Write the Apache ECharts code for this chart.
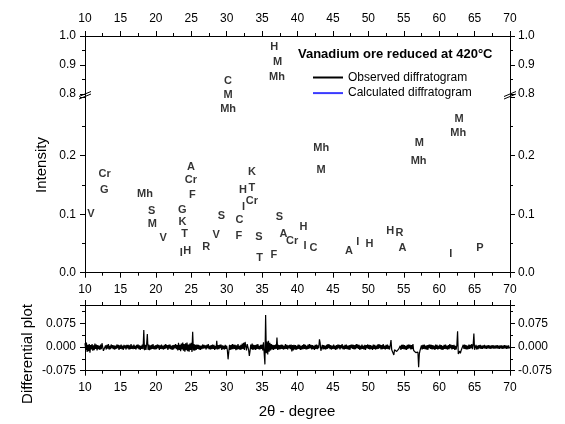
<!DOCTYPE html>
<html>
<head>
<meta charset="utf-8">
<script src="https://cdn.jsdelivr.net/npm/echarts@6/dist/echarts.min.js"></script>
<style>
  html, body { margin: 0; padding: 0; background: #fff; }
  #chart { width: 565px; height: 424px; }
</style>
</head>
<body>
<div id="chart"></div>
<script>
// phase identification marks (2theta, intensity)
const phaseNames = ["H", "M", "Mh", "C", "M", "Mh",
  "V", "Cr", "G", "Mh", "S", "M", "V",
  "A", "Cr", "F", "G", "K", "T", "I", "H",
  "R", "V", "S", "C", "F",
  "K", "H", "T", "I", "Cr",
  "S", "T", "F", "S", "A", "Cr", "H", "I", "C",
  "Mh", "M", "A", "I", "H", "H", "R", "A", "I", "P",
  "M", "Mh", "M", "Mh"];
const phaseX = [36.7, 37.2, 37.1, 30.2, 30.2, 30.2,
  10.85, 12.77, 12.72, 18.47, 19.4, 19.5, 21.05,
  24.95, 24.95, 25.14, 23.73, 23.77, 24.05, 23.59, 24.43,
  27.11, 28.52, 29.27, 31.81, 31.72,
  33.56, 32.29, 33.56, 32.38, 33.56,
  34.55, 34.64, 36.67, 37.46, 38.02, 39.25, 40.84, 41.08, 42.25,
  43.34, 43.34, 47.25, 48.52, 50.15, 53.08, 54.39, 54.81, 61.63, 65.77,
  57.2, 57.1, 62.8, 62.7];
const phaseY = [0.961, 0.909, 0.858, 0.846, 0.303, 0.28,
  0.1, 0.169, 0.141, 0.1345, 0.106, 0.083, 0.059,
  0.181, 0.158, 0.133, 0.107, 0.087, 0.067, 0.033, 0.037,
  0.044, 0.064, 0.097, 0.09, 0.063,
  0.172, 0.141, 0.144, 0.113, 0.1226,
  0.0615, 0.026, 0.03, 0.096, 0.067, 0.054, 0.079, 0.046, 0.043,
  0.214, 0.1756, 0.037, 0.053, 0.049, 0.072, 0.068, 0.043, 0.032, 0.042,
  0.221, 0.191, 0.262, 0.239];

// differential plot, sampled every 0.1 degree from 10, values in units of 0.001
const diffStart = 10;
const diffStep = 0.1;
const diffMilli = [
  12,-9,14,-16,7,-13,9,-18,6,-8,
  9,-12,5,-10,11,-6,8,-11,6,-7,
  4,-9,8,-7,12,18,-12,-18,-9,5,
  -8,7,-5,9,-8,4,-7,8,-4,6,
  -7,5,-8,4,-6,8,-4,7,-9,5,
  -6,8,-7,4,-9,7,-4,5,-8,7,
  -4,7,-8,5,-7,9,-6,4,-7,8,
  -6,4,-8,7,-4,8,-7,5,-9,4,
  -6,8,-7,54,-10,7,-9,9,41,-9,
  8,-10,5,-8,7,-6,9,-7,4,-8,
  6,-7,8,-4,7,-9,5,-6,8,-7,
  4,-8,7,-6,9,-4,6,-9,7,-5,
  8,-7,4,-9,6,-8,7,-4,9,-7,
  6,-11,13,-9,7,-13,11,-8,14,-12,
  9,-15,12,-10,14,-13,8,-15,11,-9,
  13,-16,48,-11,9,-12,7,-9,8,-6,
  7,-8,5,-9,4,-7,8,-5,7,-4,
  5,-8,7,-4,9,-7,4,-8,6,-7,
  8,-6,7,-9,4,-7,20,-8,6,-7,
  7,-4,8,-9,5,-7,4,-8,7,-6,
  4,-11,-39,-15,7,-9,6,-8,9,-7,
  8,-6,7,-10,5,-8,9,-7,4,-9,
  7,-8,11,-6,13,-9,16,13,-11,9,
  12,-9,-28,-13,8,-7,11,-9,7,-8,
  6,-9,8,-6,9,-7,4,-8,7,-6,
  8,-11,15,-22,-55,101,-20,17,-24,20,
  -15,13,-11,9,-8,7,-9,6,-7,8,
  -6,30,-9,7,-8,6,-7,8,-6,7,
  -8,4,-7,9,-6,7,-8,5,-4,7,
  -7,8,-14,6,-11,7,-8,6,-9,4,
  -7,8,-6,7,-9,4,-8,6,-7,9,
  -6,7,-8,4,-7,8,-6,9,-4,7,
  -8,6,-7,4,-9,7,-6,8,-7,5,
  -4,24,12,-12,-9,7,-8,6,-7,4,
  -8,7,-6,9,-4,8,-7,6,-8,4,
  -6,8,-7,4,-9,6,-7,8,-4,7,
  -8,6,-4,9,-7,4,-8,7,-6,8,
  -7,4,-8,6,-9,7,-4,8,-6,7,
  -8,6,-7,9,-4,8,-6,7,-9,4,
  -7,8,-6,4,-8,7,-9,6,-4,8,
  -6,7,-8,6,-7,4,-9,8,-6,7,
  -8,4,-7,8,-6,9,-4,7,-8,6,
  -7,9,-6,4,-8,7,-6,8,-7,4,
  -8,6,22,-9,-6,-11,-25,-9,-13,-7,
  -14,-8,-13,-6,-11,4,-9,7,-6,8,
  -7,6,-8,4,-9,7,-6,8,-4,7,
  -8,6,-7,9,-11,-15,-13,-18,-12,-20,
  -16,-64,-22,-11,-7,5,-8,7,-6,8,
  -7,4,-8,6,-9,7,-4,8,-6,7,
  -8,6,-7,4,-9,8,-6,7,-8,4,
  -6,8,-7,6,-9,4,-8,7,-6,8,
  -7,4,-8,6,-7,9,-4,7,-8,6,
  -6,7,-9,4,-8,6,50,-22,-17,-13,
  -20,-11,-15,-8,7,-6,8,-7,6,-8,
  4,-7,8,-6,7,-4,9,-7,6,43,
  -9,-6,7,-8,4,-7,6,-4,7,-6,
  4,-6,5,-4,7,-5,4,-6,5,-4,
  6,-5,4,-6,5,-4,6,-5,4,-5,
  5,-4,6,-5,4,-6,5,-4,5,-6,
  4,-5,6,-4,5,-6,4,-5,5,-4,
  0
];

const xTicks = { min: 10, max: 70, interval: 5 };
const titleText = "Vanadium ore reduced at 420°C";
const legendNames = ["Observed diffratogram", "Calculated diffratogram"];

const FONT = "'Liberation Sans', Arial, sans-serif";
const L = 85, R = 55;
const G_UP = { top: 36, h: 58 };
const G_LO = { top: 94, h: 178.7 };
const G_DF = { top: 305, h: 65.7 };

const upperMarks = [], lowerMarks = [];
phaseNames.forEach((n, i) => {
  const d = [phaseX[i], phaseY[i], n];
  (phaseY[i] >= 0.8 ? upperMarks : lowerMarks).push(d);
});
const diffData = diffMilli.map((v, i) => [diffStart + i * diffStep, v / 1000]);

const black = { color: "#000", width: 1 };

function xAx(gridIndex, position, showLabel) {
  return {
    type: "value", gridIndex, position,
    min: xTicks.min, max: xTicks.max, interval: xTicks.interval,
    axisLine: { show: true, onZero: false, lineStyle: black },
    axisTick: { show: true, length: 5, lineStyle: black },
    minorTick: { show: true, splitNumber: 2, length: 3, lineStyle: black },
    axisLabel: { show: showLabel, margin: 11, color: "#000", fontSize: 12, fontFamily: FONT },
    splitLine: { show: false }
  };
}
function yAx(gridIndex, position, min, max, interval, fmt) {
  return {
    type: "value", gridIndex, position, min, max, interval,
    axisLine: { show: true, onZero: false, lineStyle: black },
    axisTick: { show: true, length: 5, lineStyle: black },
    minorTick: { show: true, splitNumber: 2, length: 3, lineStyle: black },
    axisLabel: { margin: position === "left" ? 9 : 8, color: "#000", fontSize: 12, fontFamily: FONT, formatter: fmt },
    splitLine: { show: false }
  };
}
const fmtUp = v => v.toFixed(1);
const fmtLo = v => (v < 0.25 ? v.toFixed(1) : "");
const fmtDf = v => (Math.abs(v) < 0.08 ? v.toFixed(3) : "");

function markSeries(data, xi, yi) {
  return {
    type: "scatter", xAxisIndex: xi, yAxisIndex: yi, data,
    symbolSize: 1, itemStyle: { color: "rgba(0,0,0,0)" }, silent: true,
    label: {
      show: true, position: "inside", formatter: p => p.data[2],
      color: "#000", fontSize: 11, fontWeight: "bold", fontFamily: FONT
    }
  };
}

function breakMark(cx, cy) {
  return [
    { type: "line", shape: { x1: cx - 6, y1: cy + 1.5, x2: cx + 6, y2: cy - 3.5 }, style: { stroke: "#000", lineWidth: 1 } },
    { type: "line", shape: { x1: cx - 6, y1: cy + 4, x2: cx + 6, y2: cy - 1 }, style: { stroke: "#000", lineWidth: 1 } }
  ];
}

const chart = echarts.init(document.getElementById("chart"));
chart.setOption({
  animation: false,
  backgroundColor: "#fff",
  textStyle: { fontFamily: FONT },
  title: {
    text: titleText, left: 298, top: 48, padding: 0,
    textStyle: { fontSize: 13, fontWeight: "bold", color: "#000", fontFamily: FONT }
  },
  legend: {
    data: legendNames, orient: "vertical", left: 312, top: 71.5, padding: 0,
    itemWidth: 30, itemHeight: 14, itemGap: 3.6,
    itemStyle: { opacity: 0 },
    textStyle: { fontSize: 12, color: "#000", fontFamily: FONT }
  },
  grid: [
    { left: L, right: R, top: G_UP.top, height: G_UP.h },
    { left: L, right: R, top: G_LO.top, height: G_LO.h },
    { left: L, right: R, top: G_DF.top, height: G_DF.h }
  ],
  xAxis: [
    xAx(0, "top", true),
    xAx(1, "bottom", true),
    xAx(2, "top", false),
    xAx(2, "bottom", true)
  ],
  yAxis: [
    yAx(0, "left", 0.8, 1.0, 0.1, fmtUp),
    yAx(0, "right", 0.8, 1.0, 0.1, fmtUp),
    yAx(1, "left", 0, G_LO.h / 585, 0.1, fmtLo),
    yAx(1, "right", 0, G_LO.h / 585, 0.1, fmtLo),
    yAx(2, "left", -0.075, -0.075 + G_DF.h / 316, 0.075, fmtDf),
    yAx(2, "right", -0.075, -0.075 + G_DF.h / 316, 0.075, fmtDf)
  ],
  series: [
    markSeries(upperMarks, 0, 0),
    markSeries(lowerMarks, 1, 2),
    { name: legendNames[0], type: "line", xAxisIndex: 1, yAxisIndex: 2, data: [], symbol: "none",
      lineStyle: { color: "#000", width: 1.5 }, itemStyle: { color: "rgba(0,0,0,0)" } },
    { name: legendNames[1], type: "line", xAxisIndex: 1, yAxisIndex: 2, data: [], symbol: "none",
      lineStyle: { color: "#3a3aff", width: 1.5 }, itemStyle: { color: "rgba(0,0,0,0)" } },
    {
      type: "line", xAxisIndex: 3, yAxisIndex: 4, data: diffData,
      symbol: "none", lineStyle: { color: "#000", width: 1.2 }, silent: true
    }
  ],
  graphic: [
    ...breakMark(L, 95),
    ...breakMark(565 - R, 95),
    { type: "text", x: 42, y: 165, rotation: Math.PI / 2,
      style: { text: "Intensity", font: "15px " + FONT, fill: "#000", align: "center", verticalAlign: "middle" } },
    { type: "text", x: 28, y: 354, rotation: Math.PI / 2,
      style: { text: "Differential plot", font: "15px " + FONT, fill: "#000", align: "center", verticalAlign: "middle" } },
    { type: "text", x: 297, y: 412,
      style: { text: "2θ - degree", font: "15px " + FONT, fill: "#000", align: "center", verticalAlign: "middle" } }
  ]
});
</script>
</body>
</html>
